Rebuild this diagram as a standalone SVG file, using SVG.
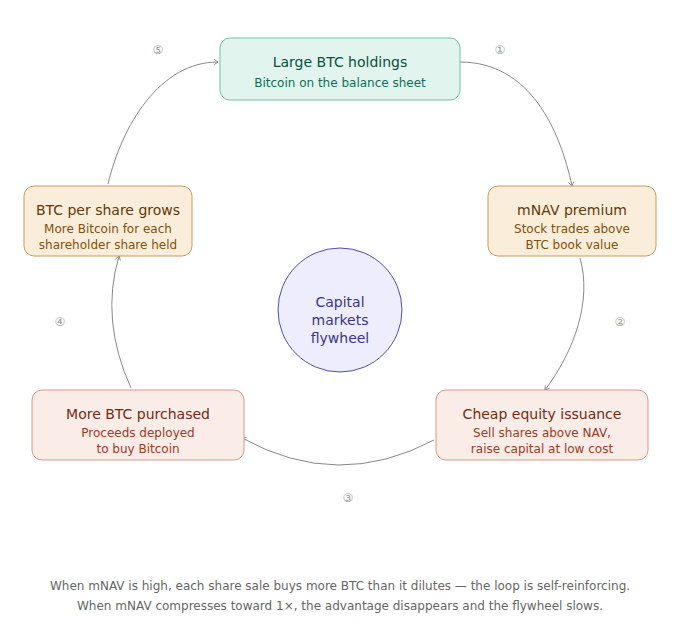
<svg xmlns="http://www.w3.org/2000/svg" width="680" height="640" viewBox="0 0 680 640">
<style>
text{font-family:"DejaVu Sans",sans-serif;text-anchor:middle}
.t{font-size:14px}
.s{font-size:12px}
.teal rect{fill:#E1F5EE;stroke:#6FC2A6}
.teal .t{fill:#085041}.teal .s{fill:#0F6E56}
.amber rect{fill:#FAEEDA;stroke:#C99A5E}
.amber .t{fill:#633806}.amber .s{fill:#854F0B}
.coral rect{fill:#FAECE7;stroke:#D69A86}
.coral .t{fill:#712B13}.coral .s{fill:#993C1D}
.c path{fill:none;stroke:#888;stroke-width:1;marker-end:url(#a)}
.n{font-size:12px;fill:#999}
.f{font-size:12px;fill:#666}
</style>
<defs>
<marker id="a" viewBox="0 0 10 10" refX="8" refY="5" markerWidth="6" markerHeight="6" orient="auto-start-reverse">
<path d="M2 1L8 5L2 9" fill="none" stroke="#888" stroke-width="1.5" stroke-linecap="round" stroke-linejoin="round"/>
</marker>
</defs>
<rect width="680" height="640" fill="#fff"/>
<g class="c" id="connectors">
<path d="M460 62C530 62 560 130 572 186"/>
<path d="M580 258C592 300 575 350 545 390"/>
<path d="M434 440Q338 491 242 438"/>
<path d="M131 388Q100 320 119 256"/>
<path d="M108 184C122 125 160 62 218 62"/>
</g>
<g id="n1" class="teal"><rect x="220" y="38" width="240" height="62" rx="10"/><text class="t" x="340" y="67">Large BTC holdings</text><text class="s" x="340" y="87">Bitcoin on the balance sheet</text></g>
<g id="n2" class="amber"><rect x="488" y="186" width="168" height="70" rx="10"/><text class="t" x="572" y="215">mNAV premium</text><text class="s" x="572" y="233">Stock trades above</text><text class="s" x="572" y="249">BTC book value</text></g>
<g id="n3" class="coral"><rect x="436" y="390" width="212" height="70" rx="10"/><text class="t" x="542" y="419">Cheap equity issuance</text><text class="s" x="542" y="437">Sell shares above NAV,</text><text class="s" x="542" y="453">raise capital at low cost</text></g>
<g id="n4" class="coral"><rect x="32" y="390" width="212" height="70" rx="10"/><text class="t" x="138" y="419">More BTC purchased</text><text class="s" x="138" y="437">Proceeds deployed</text><text class="s" x="138" y="453">to buy Bitcoin</text></g>
<g id="n5" class="amber"><rect x="24" y="186" width="168" height="70" rx="10"/><text class="t" x="108" y="215">BTC per share grows</text><text class="s" x="108" y="233">More Bitcoin for each</text><text class="s" x="108" y="249">shareholder share held</text></g>
<g id="hub"><circle cx="340" cy="310" r="62" fill="#EEEDFE" stroke="#534AB7"/><text class="t" x="340" y="307" fill="#3C3489">Capital</text><text class="t" x="340" y="325" fill="#3C3489">markets</text><text class="t" x="340" y="343" fill="#3C3489">flywheel</text></g>
<g id="steps">
<text class="n" x="500" y="54">①</text>
<text class="n" x="620" y="326">②</text>
<text class="n" x="348" y="502">③</text>
<text class="n" x="60" y="326">④</text>
<text class="n" x="158" y="54">⑤</text>
</g>
<g id="footer">
<text class="f" x="340" y="590">When mNAV is high, each share sale buys more BTC than it dilutes — the loop is self-reinforcing.</text>
<text class="f" x="340" y="610">When mNAV compresses toward 1×, the advantage disappears and the flywheel slows.</text>
</g>
</svg>
